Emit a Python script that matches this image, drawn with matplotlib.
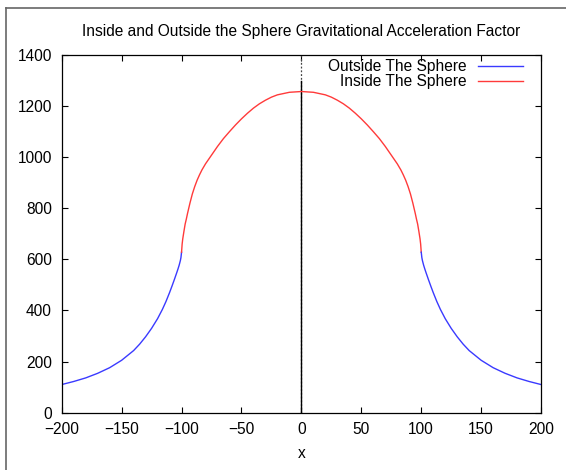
import matplotlib
matplotlib.use("Agg")
import matplotlib.pyplot as plt
from matplotlib.lines import Line2D

plt.rcParams['font.family'] = ['Liberation Sans', 'DejaVu Sans']

# values
x_out_left = [-200, -190, -180, -170, -160, -150, -140, -135, -130, -125, -120,
              -116, -113, -110, -108, -106, -104, -103, -102, -101, -100.5, -100]
y_out_left = [110, 122, 136, 154, 176, 205, 243, 268, 297, 330, 368,
              404, 435, 470, 495, 521, 548, 562, 577, 595, 607, 628]

x_in = [-100, -99.5, -99, -98, -97, -96, -95, -93, -91, -89, -87, -85, -83,
        -80, -75, -70, -65, -60, -55, -50, -45, -40, -35, -30, -25, -20, -10, 0,
        10, 20, 25, 30, 35, 40, 45, 50, 55, 60, 65, 70, 75, 80, 83, 85, 87, 89,
        91, 93, 95, 96, 97, 98, 99, 99.5, 100]
y_in = [628, 660, 680, 710, 738, 758, 780, 820, 856, 885, 910, 931, 950,
        974, 1008, 1042, 1073, 1100, 1126, 1150, 1172, 1192, 1209, 1223, 1235,
        1244, 1254, 1257,
        1254, 1244, 1235, 1223, 1209, 1192, 1172, 1150, 1126, 1100, 1073, 1042,
        1008, 974, 950, 931, 910, 885, 856, 820, 780, 758, 738, 710, 680, 660,
        628]

x_out_right = [100, 100.5, 101, 102, 103, 104, 106, 108, 110, 113, 116, 120,
               125, 130, 135, 140, 150, 160, 170, 180, 190, 200]
y_out_right = [628, 607, 595, 577, 562, 548, 521, 495, 470, 435, 404, 368,
               330, 297, 268, 243, 205, 176, 154, 136, 122, 110]

marker_top = 1300

fs = 11.2

fig = plt.figure(figsize=(5.66, 4.70), dpi=100)
ax = fig.add_axes([0.109, 0.122, 0.847, 0.761])

ax.axvline(0, color='#444444', lw=0.9, ls=(0, (1.5, 1.5)))
ax.plot([0, 0], [0, marker_top], color='black', lw=1.0)

ax.plot(x_out_left, y_out_left, color='#3a3aff', lw=1.0, label='Outside The Sphere')
ax.plot(x_in, y_in, color='#ff3a3a', lw=1.0, label='Inside The Sphere')
ax.plot(x_out_right, y_out_right, color='#3a3aff', lw=1.0)

ax.set_xlim(-200, 200)
ax.set_ylim(0, 1400)
ax.set_xticks(range(-200, 201, 50))
ax.set_yticks(range(0, 1401, 200))
ax.tick_params(direction='in', top=True, right=True, length=4, width=0.8,
               labelsize=fs)
ax.tick_params(axis='x', pad=7)
ax.tick_params(axis='y', pad=7)
for s in ax.spines.values():
    s.set_linewidth(0.9)

ax.set_xlabel('x', fontsize=fs, labelpad=6)
ax.set_title('Inside and Outside the Sphere Gravitational Acceleration Factor',
             fontsize=fs, pad=14)

ax.legend(loc='upper right', bbox_to_anchor=(0.975, 1.006), frameon=False,
          markerfirst=False, fontsize=fs, handlelength=2.9, labelspacing=0.0,
          borderaxespad=0, handletextpad=0.7)

# screenshot border on top and left
fig.add_artist(Line2D([5.5 / 566, 5.5 / 566], [0, 1 - 8 / 470],
                      color='#666666', lw=1.2, transform=fig.transFigure))
fig.add_artist(Line2D([5.5 / 566, 1], [1 - 8 / 470, 1 - 8 / 470],
                      color='#666666', lw=1.2, transform=fig.transFigure))

plt.savefig('out.png', dpi=100)
